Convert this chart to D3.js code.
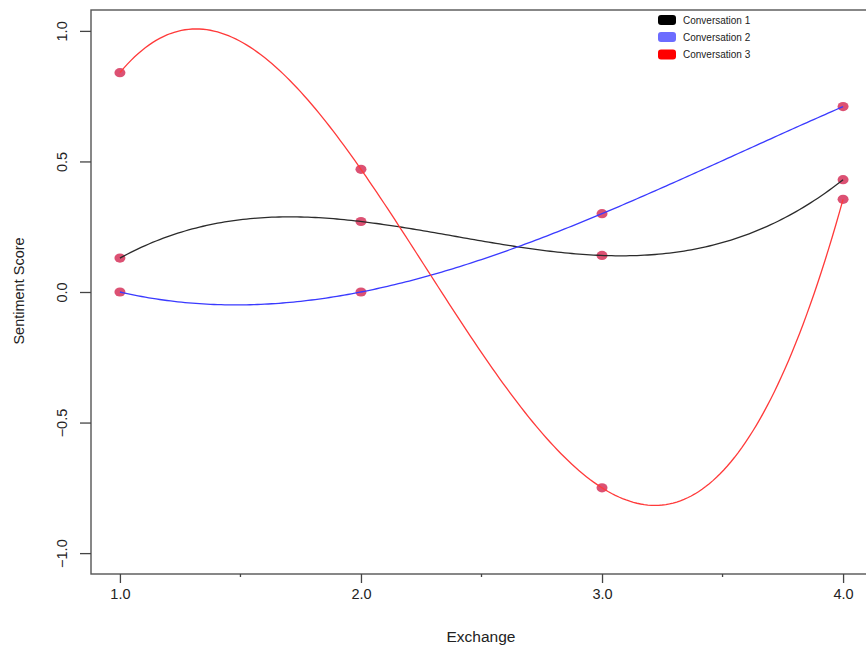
<!DOCTYPE html>
<html>
<head>
<meta charset="utf-8">
<script src="https://cdn.jsdelivr.net/npm/d3@7"></script>
<style>
  body { margin: 0; background: #fff; }
  text { font-family: "Liberation Sans", Arial, sans-serif; fill: #222; }
</style>
</head>
<body>
<script>
// data
var exchange = [1, 2, 3, 4];
var conv1 = [0.13, 0.27, 0.14, 0.43];
var conv2 = [0.00, 0.00, 0.30, 0.71];
var conv3 = [0.84, 0.47, -0.75, 0.355];
var seriesNames = ["Conversation 1", "Conversation 2", "Conversation 3"];
var xTicks = [1, 2, 3, 4];
var xMinor = [1.5, 2.5, 3.5];
var yTicks = [-1, -0.5, 0, 0.5, 1];

var width = 866, height = 649;
var lineColors = ["#2b2b2b", "#3a3aff", "#ff3a3a"];
var legendColors = ["#000000", "#6c6cff", "#ff0000"];

var svg = d3.select("body")
    .append("svg")
    .attr("width", width)
    .attr("height", height);

// R-style 4% padding around the data range
var xScale = d3.scaleLinear()
    .domain([0.88, 4.12])
    .range([91, 872]);

var yScale = d3.scaleLinear()
    .domain([-1.08, 1.08])
    .range([574, 10]);

// cubic through the 4 points (same as R spline() with fmm for n = 4)
function interp(xs, ys, x) {
    var s = 0;
    for (var i = 0; i < xs.length; i++) {
        var t = ys[i];
        for (var j = 0; j < xs.length; j++) {
            if (j != i) t *= (x - xs[j]) / (xs[i] - xs[j]);
        }
        s += t;
    }
    return s;
}

var grid = d3.range(0, 201).map(function(i) {
    return exchange[0] + (exchange[exchange.length - 1] - exchange[0]) * i / 200;
});

var series = [conv1, conv2, conv3];

var line = d3.line()
    .x(function(d) { return xScale(d[0]); })
    .y(function(d) { return yScale(d[1]); });

// points first, curves drawn over them
series.forEach(function(vals) {
    svg.append("g").selectAll("ellipse")
        .data(vals)
        .enter()
        .append("ellipse")
        .attr("cx", function(d, i) { return xScale(exchange[i]); })
        .attr("cy", function(d) { return yScale(d); })
        .attr("rx", 5.5)
        .attr("ry", 4.6)
        .attr("fill", "#d6325a")
        .attr("fill-opacity", 0.85);
});

series.forEach(function(vals, k) {
    var pts = grid.map(function(x) { return [x, interp(exchange, vals, x)]; });
    svg.append("path")
        .datum(pts)
        .attr("fill", "none")
        .attr("stroke", lineColors[k])
        .attr("stroke-width", 1.3)
        .attr("d", line);
});

// box
svg.append("rect")
    .attr("x", xScale(0.88))
    .attr("y", yScale(1.08))
    .attr("width", xScale(4.12) - xScale(0.88))
    .attr("height", yScale(-1.08) - yScale(1.08))
    .attr("fill", "none")
    .attr("stroke", "#555")
    .attr("stroke-width", 1.4);

// x axis
var xAxis = d3.axisBottom(xScale)
    .tickValues(xTicks)
    .tickSize(9)
    .tickPadding(6)
    .tickFormat(d3.format(".1f"));

var gx = svg.append("g")
    .attr("transform", "translate(0," + yScale(-1.08) + ")")
    .call(xAxis);
gx.select(".domain").remove();
gx.selectAll("line").attr("stroke", "#444").attr("stroke-width", 1.3);
gx.selectAll("text")
    .attr("font-size", 14.5)
    .attr("font-family", "Liberation Sans, Arial, sans-serif")
    .attr("fill", "#222");

gx.selectAll(".minor")
    .data(xMinor)
    .enter()
    .append("line")
    .attr("class", "minor")
    .attr("x1", function(d) { return xScale(d); })
    .attr("x2", function(d) { return xScale(d); })
    .attr("y1", 0)
    .attr("y2", 3)
    .attr("stroke", "#444")
    .attr("stroke-width", 1.3);

// y axis, labels turned like R's las = 0
var yAxis = d3.axisLeft(yScale)
    .tickValues(yTicks)
    .tickSize(11)
    .tickFormat(d3.format(".1f"));

var gy = svg.append("g")
    .attr("transform", "translate(" + xScale(0.88) + ",0)")
    .call(yAxis);
gy.select(".domain").remove();
gy.selectAll("line").attr("stroke", "#444").attr("stroke-width", 1.3);
gy.selectAll("text")
    .attr("x", null)
    .attr("dy", null)
    .attr("text-anchor", "middle")
    .attr("transform", "translate(-24,0) rotate(-90)")
    .attr("font-size", 14.5)
    .attr("font-family", "Liberation Sans, Arial, sans-serif")
    .attr("fill", "#222");

// axis titles
svg.append("text")
    .attr("x", 481)
    .attr("y", 642)
    .attr("text-anchor", "middle")
    .attr("font-size", 15.5)
    .text("Exchange");

svg.append("text")
    .attr("transform", "translate(24,291) rotate(-90)")
    .attr("text-anchor", "middle")
    .attr("font-size", 14.5)
    .text("Sentiment Score");

// legend
var legend = svg.selectAll(".legend")
    .data(seriesNames)
    .enter()
    .append("g")
    .attr("class", "legend")
    .attr("transform", function(d, i) { return "translate(658," + [20, 37, 54.5][i] + ")"; });

legend.append("rect")
    .attr("x", 0)
    .attr("y", -5)
    .attr("width", 18)
    .attr("height", 10)
    .attr("rx", 3)
    .attr("fill", function(d, i) { return legendColors[i]; });

legend.append("text")
    .attr("x", 25)
    .attr("y", 3.5)
    .attr("font-family", "Open Sans, sans-serif")
    .attr("font-size", 10)
    .attr("fill", "#111")
    .text(function(d) { return d; });
</script>
</body>
</html>
